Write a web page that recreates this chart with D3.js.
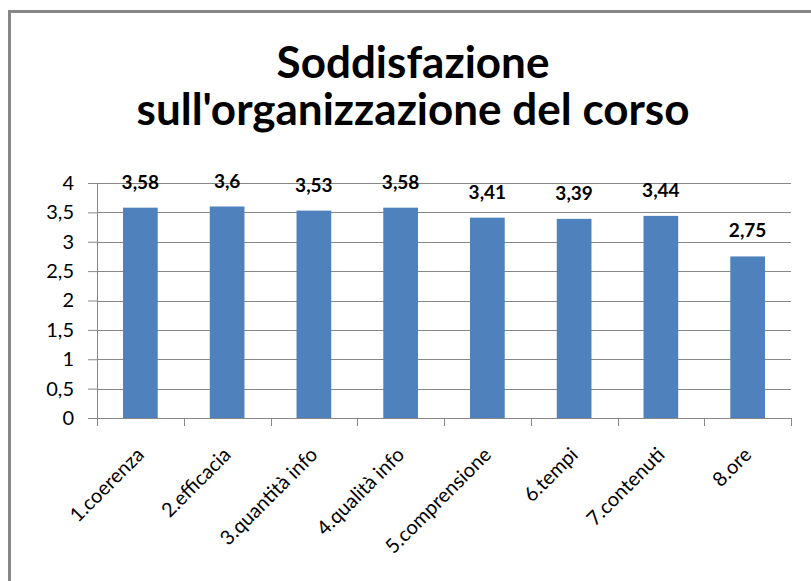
<!DOCTYPE html>
<html>
<head>
<meta charset="utf-8">
<style>
body{margin:0;background:#fff;}
svg{display:block;font-family:Lato,"Open Sans",sans-serif;}
</style>
</head>
<body>
<svg id="svg"></svg>
<script src="https://cdnjs.cloudflare.com/ajax/libs/d3/7.8.5/d3.min.js"></script>
<script>
// data
var categories = ['1.coerenza','2.efficacia','3.quantità info','4.qualità info','5.comprensione','6.tempi','7.contenuti','8.ore']
var values = [3.58, 3.6, 3.53, 3.58, 3.41, 3.39, 3.44, 2.75]
var yTicks = [0, 0.5, 1, 1.5, 2, 2.5, 3, 3.5, 4]
var titleLines = ['Soddisfazione', "sull'organizzazione del corso"]

var width = 811, height = 581
var margin = {top: 183, right: 20, bottom: 163, left: 97}
var innerW = 791 - margin.left, innerH = 418 - margin.top

var comma = function(v){ return String(v).replace('.', ',') }

var svg = d3.select('#svg').attr('width', width).attr('height', height)

// chart frame (only top and left edge are in view)
svg.append('rect')
  .attr('x', 9.5).attr('y', 11.5)
  .attr('width', 900).attr('height', 700)
  .attr('fill', 'none').attr('stroke', '#878787').attr('stroke-width', 3)

svg.append('g').selectAll('text')
  .data(titleLines)
  .enter().append('text')
  .attr('x', 413)
  .attr('y', function(d, i){ return 78 + i * 47 })
  .attr('text-anchor', 'middle')
  .style('font-size', '44px')
  .style('font-weight', 'bold')
  .text(function(d){ return d })

var x = d3.scaleBand().domain(categories).range([0, innerW]).paddingInner(0.6).paddingOuter(0.3)
var y = d3.scaleLinear().domain([0, 4]).range([innerH, 0])

var chart = svg.append('g').attr('transform', 'translate(' + margin.left + ',' + margin.top + ')')

// gridlines
chart.append('g').selectAll('line')
  .data(yTicks.slice(1))
  .enter().append('line')
  .attr('x1', 0).attr('x2', innerW)
  .attr('y1', function(d){ return Math.round(y(d)) + 0.5 })
  .attr('y2', function(d){ return Math.round(y(d)) + 0.5 })
  .attr('stroke', '#878787')

var yAxis = d3.axisLeft(y).tickValues(yTicks).tickSize(9).tickPadding(14).tickFormat(comma)
chart.append('g').attr('class', 'yaxis').call(yAxis)

chart.selectAll('.bar')
  .data(values)
  .enter().append('rect')
  .attr('class', 'bar')
  .attr('x', function(d, i){ return x(categories[i]) })
  .attr('y', function(d){ return y(d) })
  .attr('width', x.bandwidth())
  .attr('height', function(d){ return innerH - y(d) })
  .attr('fill', '#4f81bd')

chart.selectAll('.lbl')
  .data(values)
  .enter().append('text')
  .attr('class', 'lbl')
  .attr('x', function(d, i){ return x(categories[i]) + x.bandwidth() / 2 })
  .attr('y', function(d){ return y(d) - 19 })
  .attr('text-anchor', 'middle')
  .style('font-size', '19px')
  .style('font-weight', 'bold')
  .text(function(d){ return comma(d) })

// category axis: ticks at band boundaries
var bounds = d3.range(categories.length + 1).map(function(i){ return i * x.step() })
var xg = chart.append('g').attr('transform', 'translate(0,' + innerH + ')')
xg.append('line').attr('x1', 0).attr('x2', innerW).attr('y1', 0.5).attr('y2', 0.5).attr('stroke', '#878787')
xg.selectAll('.tk')
  .data(bounds)
  .enter().append('line')
  .attr('class', 'tk')
  .attr('x1', function(d){ return Math.round(d) + 0.5 })
  .attr('x2', function(d){ return Math.round(d) + 0.5 })
  .attr('y1', 0).attr('y2', 8)
  .attr('stroke', '#878787')
xg.selectAll('.cat')
  .data(categories)
  .enter().append('text')
  .attr('class', 'cat')
  .attr('text-anchor', 'end')
  .attr('transform', function(d){ return 'translate(' + (x(d) + x.bandwidth() / 2 + 5) + ',38) rotate(-45)' })
  .style('font-size', '20px')
  .text(function(d){ return d })

var ya = chart.select('.yaxis')
ya.select('.domain').attr('stroke', '#878787').attr('d', 'M-9,' + (innerH + 0.5) + 'H0.5V0.5H-9')
ya.selectAll('.tick line').attr('stroke', '#878787')
ya.selectAll('.tick text').style('font-size', '20px').attr('fill', '#000').style('font-family', 'Lato')
</script>
</body>
</html>
